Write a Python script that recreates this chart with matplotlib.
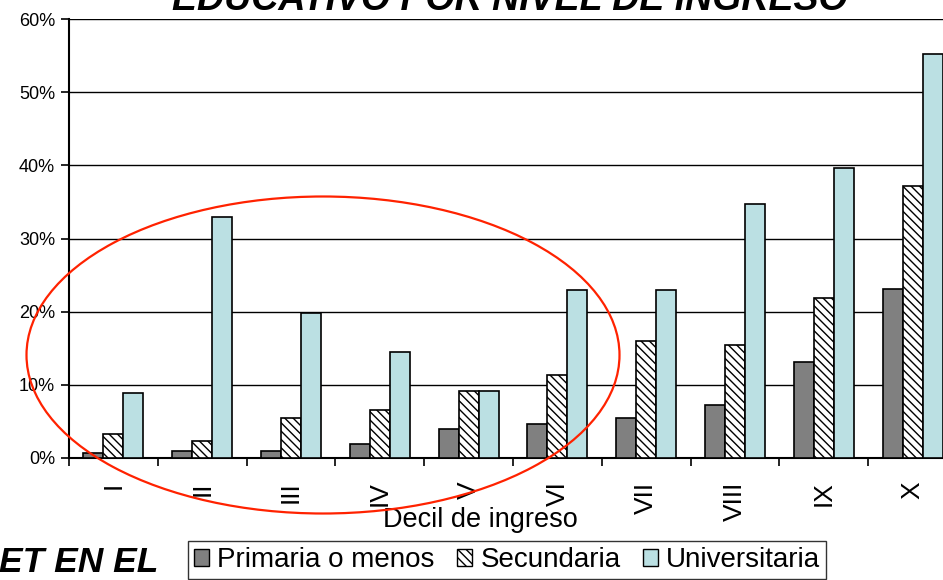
import numpy as np
import matplotlib
matplotlib.use('Agg')
import matplotlib.pyplot as plt
from matplotlib.patches import Ellipse, Patch

plt.rcParams['font.family'] = ['Liberation Sans', 'DejaVu Sans']
plt.rcParams['hatch.linewidth'] = 1.0

# data (percent)
deciles = ['I', 'II', 'III', 'IV', 'V', 'VI', 'VII', 'VIII', 'IX', 'X']
primaria = [0.7, 0.9, 0.9, 1.9, 3.9, 4.6, 5.4, 7.2, 13.1, 23.1]
secundaria = [3.3, 2.3, 5.4, 6.5, 9.1, 11.3, 16.0, 15.5, 21.8, 37.2]
universitaria = [8.9, 33.0, 19.8, 14.5, 9.1, 23.0, 23.0, 34.7, 39.6, 55.2]
series_names = ['Primaria o menos', 'Secundaria', 'Universitaria']
yticks = [0, 10, 20, 30, 40, 50, 60]

W, H = 943, 580
fig = plt.figure(figsize=(W / 100, H / 100), dpi=100)
# axes runs past the right edge, the original is cropped there
ax = fig.add_axes([69 / W, 1 - 458 / H, 888 / W, 439 / H])

x = np.arange(len(deciles))
bw = 0.225
kw = dict(edgecolor='black', linewidth=1.2, zorder=3)
ax.bar(x - bw, primaria, bw, color='#808080', **kw)
ax.bar(x, secundaria, bw, color='white', hatch='\\\\\\\\', **kw)
ax.bar(x + bw, universitaria, bw, color='#BBE0E3', **kw)

ax.set_xlim(-0.5, len(deciles) - 0.5)
ax.set_ylim(0, 60)
ax.set_yticks(yticks)
ax.set_yticklabels([f'{v}%' for v in yticks], fontsize=13)
ax.yaxis.grid(True, color='black', linewidth=1.0, zorder=0)
ax.set_axisbelow(True)

# ticks between groups, labels at the centres
ax.set_xticks(np.arange(len(deciles) + 1) - 0.5)
ax.set_xticklabels([])
ax.set_xticks(x, minor=True)
ax.set_xticklabels(deciles, minor=True, rotation=90, fontsize=19)
ax.tick_params(axis='x', which='major', direction='out', length=6, width=1.2)
ax.tick_params(axis='x', which='minor', length=0, pad=17)
ax.tick_params(axis='y', direction='out', length=6, width=1.2, pad=4)

for s in ['top', 'right']:
    ax.spines[s].set_visible(False)
ax.spines['left'].set_linewidth(1.5)
ax.spines['bottom'].set_linewidth(1.5)

fig.text(480 / W, 1 - 520 / H, 'Decil de ingreso', ha='center', va='center', fontsize=19.5)

# cropped title and side text
fig.text(510 / W, 1 - 10 / H, 'EDUCATIVO POR NIVEL DE INGRESO', ha='center', va='baseline',
         fontsize=27, fontweight='bold', fontstyle='italic')
fig.text(158 / W, 1 - 572 / H, 'ET EN EL', ha='right', va='baseline',
         fontsize=25.5, fontweight='bold', fontstyle='italic')

handles = [Patch(facecolor='#808080', edgecolor='black', linewidth=1.0),
           Patch(facecolor='white', edgecolor='black', hatch='\\\\\\\\', linewidth=1.0),
           Patch(facecolor='#BBE0E3', edgecolor='black', linewidth=1.0)]
leg = fig.legend(handles, series_names, loc='center', bbox_to_anchor=(507 / W, 1 - 560 / H),
                 ncol=3, fontsize=20, frameon=True, fancybox=False, edgecolor='black',
                 handlelength=0.55, handleheight=0.55, handletextpad=0.3, columnspacing=0.8,
                 borderpad=0.2, borderaxespad=0)
leg.get_frame().set_linewidth(1.0)

# red ellipse drawn over the first six groups
ell = Ellipse((323 / W, 1 - 355 / H), 593 / W, 317 / H, transform=fig.transFigure,
              fill=False, edgecolor='#FF2200', linewidth=1.6, clip_on=False, zorder=10)
fig.patches.append(ell)

fig.savefig('out.png', dpi=100)
